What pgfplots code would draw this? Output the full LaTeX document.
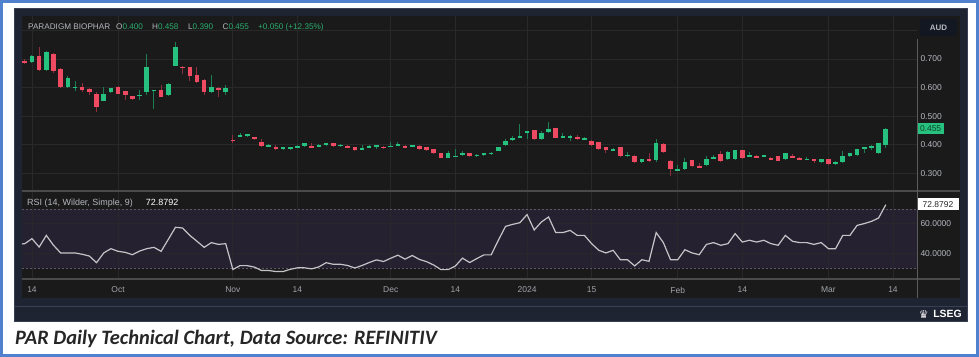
\documentclass[border=0pt]{standalone}
\usepackage{fontspec}
\setmainfont{Liberation Sans}
\newfontfamily\capfont{Carlito}
\newfontfamily\dejavu{DejaVu Sans}
\usepackage{pgfplots}
\usepackage{pgfplotstable}
\pgfplotsset{compat=1.18}
\definecolor{bordblue}{HTML}{4F81CF}
\definecolor{navy}{HTML}{1F2433}
\definecolor{navyline}{HTML}{394055}
\definecolor{plotbg}{HTML}{1A1A1A}
\definecolor{gridc}{HTML}{292929}
\definecolor{sepc}{HTML}{4A4A4A}
\definecolor{band}{HTML}{262131}
\definecolor{upc}{HTML}{26C17E}
\definecolor{dnc}{HTML}{EE4B62}
\definecolor{upw}{HTML}{1E7D52}
\definecolor{dnw}{HTML}{8E2F3D}
\definecolor{lbl}{HTML}{B4B7BE}
\definecolor{xl}{HTML}{A0A3AA}
\definecolor{valg}{HTML}{2BAE6E}
\definecolor{rsil}{HTML}{C4C4C8}
\definecolor{dotc}{HTML}{5E5868}
\definecolor{boxtxt}{HTML}{12402A}
\definecolor{audbg}{HTML}{131722}

\pgfplotstableread{
i o h l c
1 .690 .715 .687 .712
3 .661 .727 .659 .724
6 .602 .642 .600 .633
7 .599 .624 .589 .603
11 .554 .603 .552 .579
12 .584 .600 .582 .598
16 .571 .591 .556 .575
17 .584 .717 .573 .672
18 .589 .593 .526 .593
20 .573 .616 .571 .614
21 .676 .759 .674 .741
26 .584 .643 .582 .603
28 .584 .608 .575 .599
30 .430 .440 .427 .434
31 .430 .439 .427 .437
34 .395 .404 .392 .399
36 .385 .393 .383 .391
37 .385 .393 .383 .391
38 .390 .399 .388 .397
39 .396 .407 .394 .405
41 .395 .403 .394 .399
42 .399 .407 .397 .405
44 .396 .403 .394 .401
47 .384 .401 .383 .388
48 .390 .399 .388 .397
49 .394 .400 .387 .398
51 .393 .410 .391 .397
52 .399 .410 .397 .403
54 .394 .400 .392 .398
59 .355 .378 .353 .370
60 .358 .385 .356 .362
61 .367 .377 .362 .371
63 .360 .368 .358 .366
64 .364 .373 .362 .371
65 .368 .375 .366 .372
66 .379 .393 .377 .391
67 .398 .421 .396 .414
68 .419 .431 .414 .423
69 .425 .474 .423 .431
70 .440 .450 .419 .447
72 .419 .448 .417 .441
73 .445 .480 .443 .456
75 .425 .442 .423 .431
76 .425 .433 .414 .431
78 .419 .428 .417 .423
82 .381 .388 .379 .386
84 .360 .375 .358 .366
86 .339 .352 .337 .350
88 .348 .419 .340 .405
91 .310 .330 .308 .317
92 .314 .355 .312 .340
95 .329 .361 .327 .350
96 .353 .366 .350 .357
98 .349 .378 .347 .376
99 .349 .383 .347 .381
101 .360 .375 .358 .364
103 .359 .365 .357 .363
106 .349 .372 .347 .370
109 .348 .357 .346 .352
111 .339 .351 .337 .349
113 .333 .342 .331 .340
114 .339 .380 .337 .361
115 .360 .372 .358 .370
116 .364 .387 .362 .385
117 .385 .394 .373 .392
118 .390 .399 .383 .397
119 .370 .407 .368 .405
120 .400 .458 .390 .455
}\upT

\pgfplotstableread{
i o h l c
0 .692 .700 .683 .687
2 .712 .741 .659 .661
4 .717 .720 .651 .657
5 .666 .668 .600 .602
8 .603 .616 .584 .593
9 .595 .597 .575 .584
10 .579 .585 .515 .533
13 .603 .605 .577 .579
14 .587 .589 .557 .573
15 .570 .572 .557 .559
19 .591 .609 .566 .568
22 .673 .675 .649 .669
23 .672 .672 .622 .642
24 .643 .671 .617 .619
25 .628 .630 .575 .584
27 .599 .601 .567 .593
29 .418 .435 .405 .414
32 .426 .428 .417 .419
33 .411 .419 .393 .395
35 .391 .398 .383 .385
40 .397 .405 .388 .390
43 .405 .407 .394 .396
45 .397 .399 .388 .390
46 .391 .393 .379 .381
50 .393 .395 .387 .389
53 .397 .399 .388 .390
55 .397 .399 .383 .385
56 .391 .393 .379 .381
57 .385 .387 .368 .370
58 .370 .372 .353 .355
62 .370 .372 .358 .360
71 .451 .453 .417 .419
74 .458 .460 .423 .425
77 .427 .434 .418 .423
79 .414 .416 .397 .399
80 .409 .411 .383 .385
81 .391 .393 .373 .382
83 .391 .393 .358 .360
85 .361 .363 .337 .339
87 .350 .370 .341 .343
89 .404 .406 .373 .375
90 .344 .346 .291 .314
93 .346 .348 .323 .325
94 .327 .336 .318 .320
97 .367 .379 .341 .343
100 .381 .383 .352 .354
102 .362 .366 .353 .355
104 .355 .357 .347 .349
105 .360 .362 .342 .344
107 .362 .368 .353 .355
108 .355 .359 .347 .349
110 .350 .352 .335 .343
112 .350 .352 .331 .333
}\dnT

\pgfplotstableread{
i r
-1 46.0
0 46.5
1 49.9
2 44.2
3 52.1
4 45.4
5 40.2
6 40.2
7 40.2
8 39.3
9 38.1
10 33.6
11 40.2
12 43.1
13 41.3
14 40.6
15 39.0
16 41.5
17 43.1
18 44.0
19 41.3
20 49.4
21 57.6
22 57.1
23 52.1
24 48.1
25 44.0
26 47.2
27 46.0
28 46.5
29 29.0
30 31.6
31 31.6
32 30.6
33 28.3
34 28.3
35 27.6
36 27.6
37 29.1
38 30.1
39 30.1
40 29.4
41 30.8
42 33.6
43 32.5
44 32.5
45 31.7
46 30.0
47 31.7
48 33.7
49 35.5
50 34.4
51 36.6
52 38.7
53 36.0
54 38.5
55 35.8
56 34.3
57 32.0
58 28.9
59 28.9
60 31.3
61 36.7
62 33.7
63 36.4
64 38.9
65 38.9
66 48.8
67 58.2
68 59.6
69 60.7
70 66.2
71 55.8
72 61.2
73 64.6
74 54.0
75 54.0
76 55.5
77 52.1
78 52.1
79 46.5
80 42.0
81 40.2
82 42.0
83 35.6
84 35.6
85 31.4
86 35.6
87 34.5
88 54.0
89 47.2
90 35.6
91 35.6
92 42.4
93 40.2
94 39.0
95 46.0
96 47.2
97 45.4
98 46.5
99 53.3
100 47.6
101 48.8
102 47.6
103 48.8
104 46.5
105 45.4
106 52.1
107 48.1
108 47.2
109 47.2
110 46.0
111 47.2
112 43.1
113 43.1
114 52.1
115 52.1
116 58.9
117 60.1
118 61.6
119 63.9
120 72.88
}\rsiT

\newcommand{\tf}{\fontsize{8.5}{10}\selectfont}
\newcommand{\hf}{\fontsize{8.2}{10}\selectfont}

\begin{document}
\begin{tikzpicture}
\useasboundingbox (0bp,0bp) rectangle (979bp,357bp);
\begin{scope}[x=1bp,y=1bp]
\fill[white] (0,0) rectangle (979,357);
\draw[bordblue, line width=2.6bp] (1.3,1.3) rectangle (977.7,355.7);
% chart panel
\fill[navy] (14,35) rectangle (968,349);
\draw[navyline, line width=0.8bp] (14.4,35.4) rectangle (967.6,348.6);
\fill[plotbg] (22,59) rectangle (960,341);
\draw[navyline, line width=1bp] (14.4,50) -- (967.6,50);
% RSI band
\fill[band] (22,89) rectangle (917,148);
\end{scope}

% price panel
\begin{axis}[at={(22bp,166bp)}, anchor=south west, scale only axis,
  width=895bp, height=175bp,
  xmin=-0.39, xmax=124.35, ymin=0.2385, ymax=0.8503,
  axis line style={draw=none}, major tick length=0,
  xtick={1,13,29,38,51,60,70,79,91,100,112,121}, xticklabels={},
  ytick={0.3,0.4,0.5,0.6,0.7,0.8},
  yticklabels={0.300,0.400,0.500,0.600,0.700,},
  yticklabel pos=right,
  yticklabel style={font=\tf, text=lbl},
  grid=major, major grid style={gridc, line width=0.8bp},
  clip=true]
\addplot[draw=none, mark=none, error bars/.cd, y dir=both, y explicit,
  error mark=none, error bar style={line width=1bp, draw=upw}]
  table[x=i, y expr=(\thisrow{h}+\thisrow{l})/2, y error expr=(\thisrow{h}-\thisrow{l})/2] {\upT};
\addplot[draw=none, mark=none, error bars/.cd, y dir=both, y explicit,
  error mark=none, error bar style={line width=1bp, draw=dnw}]
  table[x=i, y expr=(\thisrow{h}+\thisrow{l})/2, y error expr=(\thisrow{h}-\thisrow{l})/2] {\dnT};
\addplot[draw=none, mark=none, error bars/.cd, y dir=both, y explicit,
  error mark=none, error bar style={line width=4.6bp, draw=upc}]
  table[x=i, y expr=(\thisrow{o}+\thisrow{c})/2, y error expr=(\thisrow{c}-\thisrow{o})/2] {\upT};
\addplot[draw=none, mark=none, error bars/.cd, y dir=both, y explicit,
  error mark=none, error bar style={line width=4.6bp, draw=dnc}]
  table[x=i, y expr=(\thisrow{o}+\thisrow{c})/2, y error expr=(\thisrow{o}-\thisrow{c})/2] {\dnT};
\end{axis}

% RSI panel
\begin{axis}[at={(22bp,78bp)}, anchor=south west, scale only axis,
  width=895bp, height=88bp,
  xmin=-0.39, xmax=124.35, ymin=22.54, ymax=82.2,
  axis line style={draw=none}, major tick length=0,
  xtick={1,13,29,38,51,60,70,79,91,100,112,121},
  xticklabels={14,Oct,Nov,14,Dec,14,2024,15,Feb,14,Mar,14},
  xticklabel style={font=\tf, text=xl, anchor=center, yshift=-11bp},
  ytick={40,60}, yticklabels={40.0000,60.0000},
  yticklabel pos=right,
  yticklabel style={font=\tf, text=lbl},
  grid=major, major grid style={gridc!80!band, line width=0.8bp},
  clip=true]
\addplot[dotc, line width=0.8bp, dash pattern=on 2bp off 2bp] coordinates {(-0.39,70) (124.35,70)};
\addplot[dotc, line width=0.8bp, dash pattern=on 2bp off 2bp] coordinates {(-0.39,30) (124.35,30)};
\addplot[rsil, line width=1.2bp, mark=none] table[x=i, y=r] {\rsiT};
\end{axis}

\begin{scope}[x=1bp,y=1bp]
% separators and price axis line
\draw[sepc, line width=1.2bp] (22,166) -- (960,166);
\draw[sepc, line width=1.2bp] (22,78) -- (960,78);
\draw[sepc!90!white, line width=0.9bp] (917,318) -- (917,59);

% header
\node[anchor=base west, inner sep=0, text=lbl, font=\hf] at (28,327.3) {PARADIGM BIOPHAR};
\node[anchor=base west, inner sep=0, text=lbl, font=\hf] at (116,327.3) {O\textcolor{valg}{0.400}};
\node[anchor=base west, inner sep=0, text=lbl, font=\hf] at (152,327.3) {H\textcolor{valg}{0.458}};
\node[anchor=base west, inner sep=0, text=lbl, font=\hf] at (188,327.3) {L\textcolor{valg}{0.390}};
\node[anchor=base west, inner sep=0, text=lbl, font=\hf] at (222.5,327.3) {C\textcolor{valg}{0.455}};
\node[anchor=base west, inner sep=0, text=valg, font=\hf] at (258,327.3) {+0.050 (+12.35\%)};

% AUD box
\fill[audbg, rounded corners=2bp] (920,321) rectangle (957,338);
\node[text=lbl, font=\fontsize{8}{9}\selectfont\bfseries] at (938.5,329.5) {AUD};

% last price box
\node[fill=upc, text=boxtxt, anchor=west, inner xsep=2.5bp, inner ysep=0bp,
  minimum height=11bp, font=\tf] at (917.3,228) {0.455};

% RSI label
\node[anchor=base west, inner sep=0, text=lbl, font=\fontsize{9}{10}\selectfont] at (27,151.3) {RSI (14, Wilder, Simple, 9)};
\node[anchor=base west, inner sep=0, text=white, font=\fontsize{9}{10}\selectfont] at (145.7,151.3) {72.8792};
\node[fill=white, text=black!85, anchor=west, inner xsep=2.5bp, inner ysep=0bp,
  minimum height=12bp, minimum width=41bp, font=\tf] at (917.3,152.8) {72.8792};

% LSEG
\node[anchor=east, inner sep=0, text=white, font=\fontsize{10.5}{11}\selectfont\bfseries] at (962,43) {LSEG};
\node[anchor=east, inner sep=0, text=white!85!gray, font=\dejavu\fontsize{11}{11}\selectfont] at (929,43) {♛};

% caption
\node[anchor=base west, inner sep=0, text=black!85, font=\capfont\bfseries\itshape\fontsize{20.5}{22}\selectfont] at (15,12.3) {PAR Daily Technical Chart, Data Source: REFINITIV};
\end{scope}
\end{tikzpicture}
\end{document}
